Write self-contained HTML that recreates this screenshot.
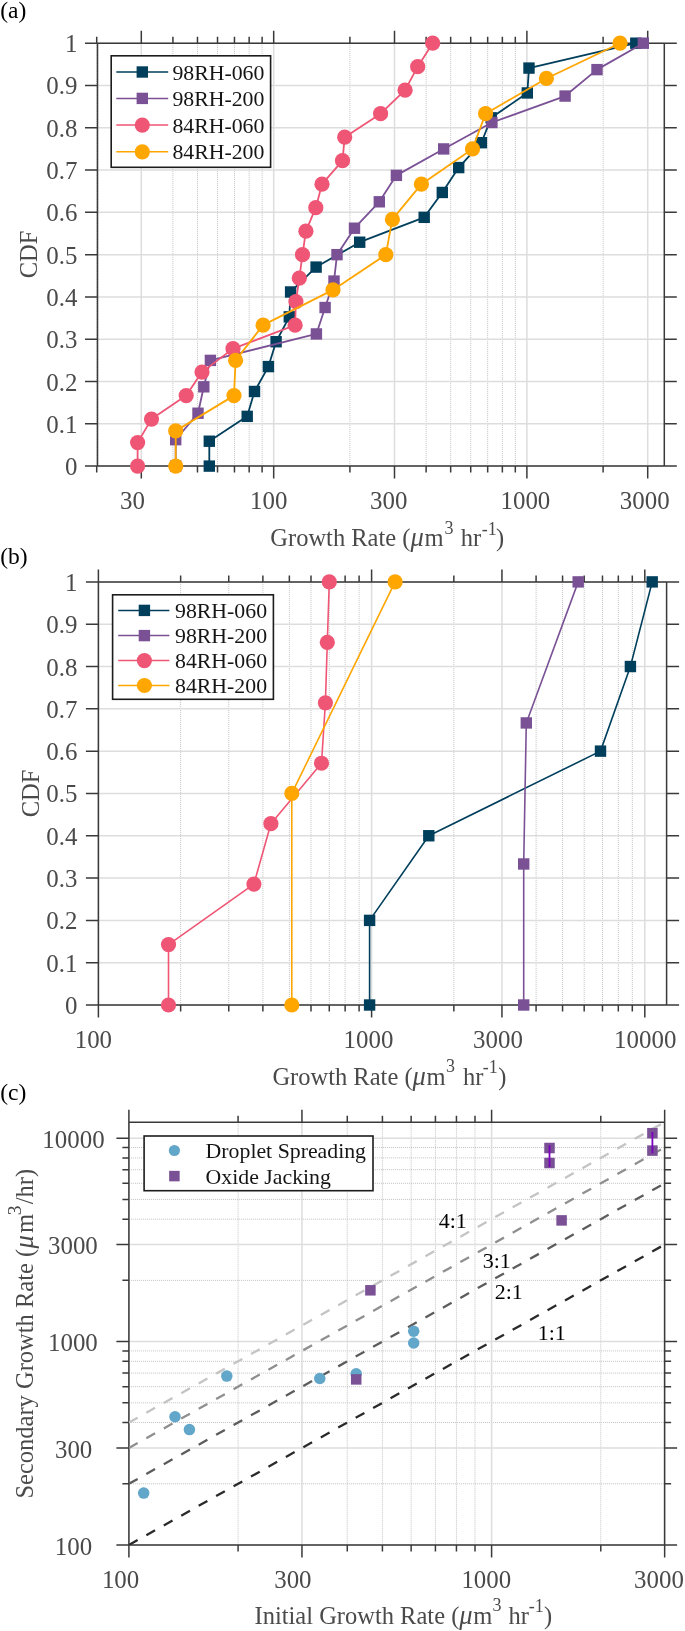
<!DOCTYPE html><html><head><meta charset="utf-8"><style>html,body{margin:0;padding:0;background:#fff;}svg{display:block;will-change:transform;}text{font-family:"Liberation Serif", serif;}</style></head><body>
<svg width="685" height="1631" viewBox="0 0 685 1631">
<rect width="685" height="1631" fill="#fff"/>
<line x1="96.71" y1="43.2" x2="96.71" y2="466.1" stroke="#c2c2c2" stroke-width="1" stroke-dasharray="1 1"/>
<line x1="172.93" y1="43.2" x2="172.93" y2="466.1" stroke="#c2c2c2" stroke-width="1" stroke-dasharray="1 1"/>
<line x1="197.47" y1="43.2" x2="197.47" y2="466.1" stroke="#c2c2c2" stroke-width="1" stroke-dasharray="1 1"/>
<line x1="217.52" y1="43.2" x2="217.52" y2="466.1" stroke="#c2c2c2" stroke-width="1" stroke-dasharray="1 1"/>
<line x1="234.47" y1="43.2" x2="234.47" y2="466.1" stroke="#c2c2c2" stroke-width="1" stroke-dasharray="1 1"/>
<line x1="249.16" y1="43.2" x2="249.16" y2="466.1" stroke="#c2c2c2" stroke-width="1" stroke-dasharray="1 1"/>
<line x1="262.11" y1="43.2" x2="262.11" y2="466.1" stroke="#c2c2c2" stroke-width="1" stroke-dasharray="1 1"/>
<line x1="349.91" y1="43.2" x2="349.91" y2="466.1" stroke="#c2c2c2" stroke-width="1" stroke-dasharray="1 1"/>
<line x1="426.13" y1="43.2" x2="426.13" y2="466.1" stroke="#c2c2c2" stroke-width="1" stroke-dasharray="1 1"/>
<line x1="450.67" y1="43.2" x2="450.67" y2="466.1" stroke="#c2c2c2" stroke-width="1" stroke-dasharray="1 1"/>
<line x1="470.72" y1="43.2" x2="470.72" y2="466.1" stroke="#c2c2c2" stroke-width="1" stroke-dasharray="1 1"/>
<line x1="487.67" y1="43.2" x2="487.67" y2="466.1" stroke="#c2c2c2" stroke-width="1" stroke-dasharray="1 1"/>
<line x1="502.36" y1="43.2" x2="502.36" y2="466.1" stroke="#c2c2c2" stroke-width="1" stroke-dasharray="1 1"/>
<line x1="515.31" y1="43.2" x2="515.31" y2="466.1" stroke="#c2c2c2" stroke-width="1" stroke-dasharray="1 1"/>
<line x1="603.11" y1="43.2" x2="603.11" y2="466.1" stroke="#c2c2c2" stroke-width="1" stroke-dasharray="1 1"/>
<line x1="141.30" y1="43.2" x2="141.30" y2="466.1" stroke="#dddddd" stroke-width="1.5"/>
<line x1="273.69" y1="43.2" x2="273.69" y2="466.1" stroke="#dddddd" stroke-width="1.5"/>
<line x1="394.50" y1="43.2" x2="394.50" y2="466.1" stroke="#dddddd" stroke-width="1.5"/>
<line x1="526.89" y1="43.2" x2="526.89" y2="466.1" stroke="#dddddd" stroke-width="1.5"/>
<line x1="647.70" y1="43.2" x2="647.70" y2="466.1" stroke="#dddddd" stroke-width="1.5"/>
<line x1="97.5" y1="466.10" x2="664.3" y2="466.10" stroke="#dddddd" stroke-width="1.5"/>
<line x1="97.5" y1="423.81" x2="664.3" y2="423.81" stroke="#dddddd" stroke-width="1.5"/>
<line x1="97.5" y1="381.52" x2="664.3" y2="381.52" stroke="#dddddd" stroke-width="1.5"/>
<line x1="97.5" y1="339.23" x2="664.3" y2="339.23" stroke="#dddddd" stroke-width="1.5"/>
<line x1="97.5" y1="296.94" x2="664.3" y2="296.94" stroke="#dddddd" stroke-width="1.5"/>
<line x1="97.5" y1="254.65" x2="664.3" y2="254.65" stroke="#dddddd" stroke-width="1.5"/>
<line x1="97.5" y1="212.36" x2="664.3" y2="212.36" stroke="#dddddd" stroke-width="1.5"/>
<line x1="97.5" y1="170.07" x2="664.3" y2="170.07" stroke="#dddddd" stroke-width="1.5"/>
<line x1="97.5" y1="127.78" x2="664.3" y2="127.78" stroke="#dddddd" stroke-width="1.5"/>
<line x1="97.5" y1="85.49" x2="664.3" y2="85.49" stroke="#dddddd" stroke-width="1.5"/>
<line x1="97.5" y1="43.20" x2="664.3" y2="43.20" stroke="#dddddd" stroke-width="1.5"/>
<path d="M97.5,43.2H664.3V466.1H97.5ZM141.30,43.2v-12.5M141.30,466.1v12.5M273.69,43.2v-12.5M273.69,466.1v12.5M394.50,43.2v-12.5M394.50,466.1v12.5M526.89,43.2v-12.5M526.89,466.1v12.5M647.70,43.2v-12.5M647.70,466.1v12.5M96.71,43.2v-6.5M96.71,466.1v6.5M172.93,43.2v-6.5M172.93,466.1v6.5M197.47,43.2v-6.5M197.47,466.1v6.5M217.52,43.2v-6.5M217.52,466.1v6.5M234.47,43.2v-6.5M234.47,466.1v6.5M249.16,43.2v-6.5M249.16,466.1v6.5M262.11,43.2v-6.5M262.11,466.1v6.5M349.91,43.2v-6.5M349.91,466.1v6.5M426.13,43.2v-6.5M426.13,466.1v6.5M450.67,43.2v-6.5M450.67,466.1v6.5M470.72,43.2v-6.5M470.72,466.1v6.5M487.67,43.2v-6.5M487.67,466.1v6.5M502.36,43.2v-6.5M502.36,466.1v6.5M515.31,43.2v-6.5M515.31,466.1v6.5M603.11,43.2v-6.5M603.11,466.1v6.5M97.5,466.10h-12.5M664.3,466.10h12.5M97.5,423.81h-12.5M664.3,423.81h12.5M97.5,381.52h-12.5M664.3,381.52h12.5M97.5,339.23h-12.5M664.3,339.23h12.5M97.5,296.94h-12.5M664.3,296.94h12.5M97.5,254.65h-12.5M664.3,254.65h12.5M97.5,212.36h-12.5M664.3,212.36h12.5M97.5,170.07h-12.5M664.3,170.07h12.5M97.5,127.78h-12.5M664.3,127.78h12.5M97.5,85.49h-12.5M664.3,85.49h12.5M97.5,43.20h-12.5M664.3,43.20h12.5" fill="none" stroke="#3a3a3a" stroke-width="1.5"/>
<path d="M209.30,466.10L209.30,441.22L247.20,416.35L254.50,391.47L268.40,366.59L276.10,341.72L289.30,316.84L290.60,291.96L316.10,267.09L359.70,242.21L424.20,217.34L442.30,192.46L458.70,167.58L481.40,142.71L491.20,117.83L527.30,92.95L529.00,68.08L635.80,43.20" fill="none" stroke="#003f5c" stroke-width="1.8" stroke-linejoin="round"/>
<rect x="203.60" y="460.40" width="11.4" height="11.4" fill="#003f5c"/>
<rect x="203.60" y="435.52" width="11.4" height="11.4" fill="#003f5c"/>
<rect x="241.50" y="410.65" width="11.4" height="11.4" fill="#003f5c"/>
<rect x="248.80" y="385.77" width="11.4" height="11.4" fill="#003f5c"/>
<rect x="262.70" y="360.89" width="11.4" height="11.4" fill="#003f5c"/>
<rect x="270.40" y="336.02" width="11.4" height="11.4" fill="#003f5c"/>
<rect x="283.60" y="311.14" width="11.4" height="11.4" fill="#003f5c"/>
<rect x="284.90" y="286.26" width="11.4" height="11.4" fill="#003f5c"/>
<rect x="310.40" y="261.39" width="11.4" height="11.4" fill="#003f5c"/>
<rect x="354.00" y="236.51" width="11.4" height="11.4" fill="#003f5c"/>
<rect x="418.50" y="211.64" width="11.4" height="11.4" fill="#003f5c"/>
<rect x="436.60" y="186.76" width="11.4" height="11.4" fill="#003f5c"/>
<rect x="453.00" y="161.88" width="11.4" height="11.4" fill="#003f5c"/>
<rect x="475.70" y="137.01" width="11.4" height="11.4" fill="#003f5c"/>
<rect x="485.50" y="112.13" width="11.4" height="11.4" fill="#003f5c"/>
<rect x="521.60" y="87.25" width="11.4" height="11.4" fill="#003f5c"/>
<rect x="523.30" y="62.38" width="11.4" height="11.4" fill="#003f5c"/>
<rect x="630.10" y="37.50" width="11.4" height="11.4" fill="#003f5c"/>
<path d="M175.70,466.10L175.70,439.67L198.00,413.24L203.80,386.81L210.40,360.38L316.40,333.94L325.10,307.51L334.00,281.08L337.00,254.65L354.50,228.22L379.30,201.79L396.40,175.36L443.70,148.93L491.90,122.49L565.10,96.06L597.00,69.63L643.30,43.20" fill="none" stroke="#7a5195" stroke-width="1.8" stroke-linejoin="round"/>
<rect x="170.00" y="460.40" width="11.4" height="11.4" fill="#7a5195"/>
<rect x="170.00" y="433.97" width="11.4" height="11.4" fill="#7a5195"/>
<rect x="192.30" y="407.54" width="11.4" height="11.4" fill="#7a5195"/>
<rect x="198.10" y="381.11" width="11.4" height="11.4" fill="#7a5195"/>
<rect x="204.70" y="354.68" width="11.4" height="11.4" fill="#7a5195"/>
<rect x="310.70" y="328.24" width="11.4" height="11.4" fill="#7a5195"/>
<rect x="319.40" y="301.81" width="11.4" height="11.4" fill="#7a5195"/>
<rect x="328.30" y="275.38" width="11.4" height="11.4" fill="#7a5195"/>
<rect x="331.30" y="248.95" width="11.4" height="11.4" fill="#7a5195"/>
<rect x="348.80" y="222.52" width="11.4" height="11.4" fill="#7a5195"/>
<rect x="373.60" y="196.09" width="11.4" height="11.4" fill="#7a5195"/>
<rect x="390.70" y="169.66" width="11.4" height="11.4" fill="#7a5195"/>
<rect x="438.00" y="143.23" width="11.4" height="11.4" fill="#7a5195"/>
<rect x="486.20" y="116.79" width="11.4" height="11.4" fill="#7a5195"/>
<rect x="559.40" y="90.36" width="11.4" height="11.4" fill="#7a5195"/>
<rect x="591.30" y="63.93" width="11.4" height="11.4" fill="#7a5195"/>
<rect x="637.60" y="37.50" width="11.4" height="11.4" fill="#7a5195"/>
<path d="M137.60,466.10L137.60,442.61L151.50,419.11L186.20,395.62L202.00,372.12L233.00,348.63L295.10,325.13L295.90,301.64L299.30,278.14L302.50,254.65L305.90,231.16L315.80,207.66L322.00,184.17L342.50,160.67L344.70,137.18L380.60,113.68L405.10,90.19L417.70,66.69L432.70,43.20" fill="none" stroke="#ef5675" stroke-width="1.8" stroke-linejoin="round"/>
<circle cx="137.60" cy="466.10" r="7.6" fill="#ef5675"/>
<circle cx="137.60" cy="442.61" r="7.6" fill="#ef5675"/>
<circle cx="151.50" cy="419.11" r="7.6" fill="#ef5675"/>
<circle cx="186.20" cy="395.62" r="7.6" fill="#ef5675"/>
<circle cx="202.00" cy="372.12" r="7.6" fill="#ef5675"/>
<circle cx="233.00" cy="348.63" r="7.6" fill="#ef5675"/>
<circle cx="295.10" cy="325.13" r="7.6" fill="#ef5675"/>
<circle cx="295.90" cy="301.64" r="7.6" fill="#ef5675"/>
<circle cx="299.30" cy="278.14" r="7.6" fill="#ef5675"/>
<circle cx="302.50" cy="254.65" r="7.6" fill="#ef5675"/>
<circle cx="305.90" cy="231.16" r="7.6" fill="#ef5675"/>
<circle cx="315.80" cy="207.66" r="7.6" fill="#ef5675"/>
<circle cx="322.00" cy="184.17" r="7.6" fill="#ef5675"/>
<circle cx="342.50" cy="160.67" r="7.6" fill="#ef5675"/>
<circle cx="344.70" cy="137.18" r="7.6" fill="#ef5675"/>
<circle cx="380.60" cy="113.68" r="7.6" fill="#ef5675"/>
<circle cx="405.10" cy="90.19" r="7.6" fill="#ef5675"/>
<circle cx="417.70" cy="66.69" r="7.6" fill="#ef5675"/>
<circle cx="432.70" cy="43.20" r="7.6" fill="#ef5675"/>
<path d="M175.70,466.10L175.70,430.86L234.00,395.62L235.60,360.38L263.10,325.13L333.00,289.89L385.80,254.65L392.40,219.41L421.40,184.17L472.50,148.93L485.60,113.68L546.40,78.44L620.00,43.20" fill="none" stroke="#ffa600" stroke-width="1.8" stroke-linejoin="round"/>
<circle cx="175.70" cy="466.10" r="7.6" fill="#ffa600"/>
<circle cx="175.70" cy="430.86" r="7.6" fill="#ffa600"/>
<circle cx="234.00" cy="395.62" r="7.6" fill="#ffa600"/>
<circle cx="235.60" cy="360.38" r="7.6" fill="#ffa600"/>
<circle cx="263.10" cy="325.13" r="7.6" fill="#ffa600"/>
<circle cx="333.00" cy="289.89" r="7.6" fill="#ffa600"/>
<circle cx="385.80" cy="254.65" r="7.6" fill="#ffa600"/>
<circle cx="392.40" cy="219.41" r="7.6" fill="#ffa600"/>
<circle cx="421.40" cy="184.17" r="7.6" fill="#ffa600"/>
<circle cx="472.50" cy="148.93" r="7.6" fill="#ffa600"/>
<circle cx="485.60" cy="113.68" r="7.6" fill="#ffa600"/>
<circle cx="546.40" cy="78.44" r="7.6" fill="#ffa600"/>
<circle cx="620.00" cy="43.20" r="7.6" fill="#ffa600"/>
<rect x="111.2" y="55.8" width="159.40" height="111.50" fill="#fff" stroke="#1c1c1c" stroke-width="1.6"/>
<line x1="116.3" y1="72" x2="168.2" y2="72" stroke="#003f5c" stroke-width="1.5"/>
<rect x="136.60" y="66.30" width="11.4" height="11.4" fill="#003f5c"/>
<text x="172.4" y="79.60" font-size="21.8" fill="#151515">98RH-060</text>
<line x1="116.3" y1="98.4" x2="168.2" y2="98.4" stroke="#7a5195" stroke-width="1.5"/>
<rect x="136.60" y="92.70" width="11.4" height="11.4" fill="#7a5195"/>
<text x="172.4" y="106.00" font-size="21.8" fill="#151515">98RH-200</text>
<line x1="116.3" y1="125.1" x2="168.2" y2="125.1" stroke="#ef5675" stroke-width="1.5"/>
<circle cx="142.3" cy="125.1" r="7.6" fill="#ef5675"/>
<text x="172.4" y="132.70" font-size="21.8" fill="#151515">84RH-060</text>
<line x1="116.3" y1="151.8" x2="168.2" y2="151.8" stroke="#ffa600" stroke-width="1.5"/>
<circle cx="142.3" cy="151.8" r="7.6" fill="#ffa600"/>
<text x="172.4" y="159.40" font-size="21.8" fill="#151515">84RH-200</text>
<text x="77.40" y="475.10" font-size="24.9" text-anchor="end" fill="#4a4a4a" >0</text>
<text x="77.40" y="432.81" font-size="24.9" text-anchor="end" fill="#4a4a4a" >0.1</text>
<text x="77.40" y="390.52" font-size="24.9" text-anchor="end" fill="#4a4a4a" >0.2</text>
<text x="77.40" y="348.23" font-size="24.9" text-anchor="end" fill="#4a4a4a" >0.3</text>
<text x="77.40" y="305.94" font-size="24.9" text-anchor="end" fill="#4a4a4a" >0.4</text>
<text x="77.40" y="263.65" font-size="24.9" text-anchor="end" fill="#4a4a4a" >0.5</text>
<text x="77.40" y="221.36" font-size="24.9" text-anchor="end" fill="#4a4a4a" >0.6</text>
<text x="77.40" y="179.07" font-size="24.9" text-anchor="end" fill="#4a4a4a" >0.7</text>
<text x="77.40" y="136.78" font-size="24.9" text-anchor="end" fill="#4a4a4a" >0.8</text>
<text x="77.40" y="94.49" font-size="24.9" text-anchor="end" fill="#4a4a4a" >0.9</text>
<text x="77.40" y="52.20" font-size="24.9" text-anchor="end" fill="#4a4a4a" >1</text>
<text x="120.10" y="508.50" font-size="24.9" text-anchor="start" fill="#4a4a4a" >30</text>
<text x="250.01" y="508.50" font-size="24.9" text-anchor="start" fill="#4a4a4a" >100</text>
<text x="370.10" y="508.50" font-size="24.9" text-anchor="start" fill="#4a4a4a" >300</text>
<text x="500.51" y="508.50" font-size="24.9" text-anchor="start" fill="#4a4a4a" >1000</text>
<text x="619.80" y="508.50" font-size="24.9" text-anchor="start" fill="#4a4a4a" >3000</text>
<text x="270.30" y="546.20" font-size="24.5" text-anchor="start" fill="#4a4a4a" >Growth Rate (<tspan font-style="italic" font-size="26.5">μ</tspan><tspan dx="0.6">m</tspan></text>
<text x="444.60" y="533.90" font-size="18" text-anchor="start" fill="#4a4a4a" >3</text>
<text x="460.70" y="546.20" font-size="24.5" text-anchor="start" fill="#4a4a4a" >hr</text>
<text x="481.76" y="534.90" font-size="18" text-anchor="start" fill="#4a4a4a" >-1</text>
<text x="496.07" y="546.20" font-size="24.5" text-anchor="start" fill="#4a4a4a" >)</text>
<text transform="translate(36.6,254.5) rotate(-90)" font-size="24.5" text-anchor="middle" fill="#4a4a4a">CDF</text>
<text x="0.20" y="17.60" font-size="23.5" text-anchor="start" fill="#000" >(a)</text>
<line x1="180.64" y1="581.9" x2="180.64" y2="1005.0" stroke="#c2c2c2" stroke-width="1" stroke-dasharray="1 1"/>
<line x1="228.75" y1="581.9" x2="228.75" y2="1005.0" stroke="#c2c2c2" stroke-width="1" stroke-dasharray="1 1"/>
<line x1="262.88" y1="581.9" x2="262.88" y2="1005.0" stroke="#c2c2c2" stroke-width="1" stroke-dasharray="1 1"/>
<line x1="289.36" y1="581.9" x2="289.36" y2="1005.0" stroke="#c2c2c2" stroke-width="1" stroke-dasharray="1 1"/>
<line x1="310.99" y1="581.9" x2="310.99" y2="1005.0" stroke="#c2c2c2" stroke-width="1" stroke-dasharray="1 1"/>
<line x1="329.28" y1="581.9" x2="329.28" y2="1005.0" stroke="#c2c2c2" stroke-width="1" stroke-dasharray="1 1"/>
<line x1="345.12" y1="581.9" x2="345.12" y2="1005.0" stroke="#c2c2c2" stroke-width="1" stroke-dasharray="1 1"/>
<line x1="359.10" y1="581.9" x2="359.10" y2="1005.0" stroke="#c2c2c2" stroke-width="1" stroke-dasharray="1 1"/>
<line x1="453.84" y1="581.9" x2="453.84" y2="1005.0" stroke="#c2c2c2" stroke-width="1" stroke-dasharray="1 1"/>
<line x1="536.08" y1="581.9" x2="536.08" y2="1005.0" stroke="#c2c2c2" stroke-width="1" stroke-dasharray="1 1"/>
<line x1="562.56" y1="581.9" x2="562.56" y2="1005.0" stroke="#c2c2c2" stroke-width="1" stroke-dasharray="1 1"/>
<line x1="584.19" y1="581.9" x2="584.19" y2="1005.0" stroke="#c2c2c2" stroke-width="1" stroke-dasharray="1 1"/>
<line x1="602.48" y1="581.9" x2="602.48" y2="1005.0" stroke="#c2c2c2" stroke-width="1" stroke-dasharray="1 1"/>
<line x1="618.32" y1="581.9" x2="618.32" y2="1005.0" stroke="#c2c2c2" stroke-width="1" stroke-dasharray="1 1"/>
<line x1="632.30" y1="581.9" x2="632.30" y2="1005.0" stroke="#c2c2c2" stroke-width="1" stroke-dasharray="1 1"/>
<line x1="98.40" y1="581.9" x2="98.40" y2="1005.0" stroke="#dddddd" stroke-width="1.5"/>
<line x1="371.60" y1="581.9" x2="371.60" y2="1005.0" stroke="#dddddd" stroke-width="1.5"/>
<line x1="501.95" y1="581.9" x2="501.95" y2="1005.0" stroke="#dddddd" stroke-width="1.5"/>
<line x1="644.80" y1="581.9" x2="644.80" y2="1005.0" stroke="#dddddd" stroke-width="1.5"/>
<line x1="98.4" y1="1005.00" x2="666.6" y2="1005.00" stroke="#dddddd" stroke-width="1.5"/>
<line x1="98.4" y1="962.69" x2="666.6" y2="962.69" stroke="#dddddd" stroke-width="1.5"/>
<line x1="98.4" y1="920.38" x2="666.6" y2="920.38" stroke="#dddddd" stroke-width="1.5"/>
<line x1="98.4" y1="878.07" x2="666.6" y2="878.07" stroke="#dddddd" stroke-width="1.5"/>
<line x1="98.4" y1="835.76" x2="666.6" y2="835.76" stroke="#dddddd" stroke-width="1.5"/>
<line x1="98.4" y1="793.45" x2="666.6" y2="793.45" stroke="#dddddd" stroke-width="1.5"/>
<line x1="98.4" y1="751.14" x2="666.6" y2="751.14" stroke="#dddddd" stroke-width="1.5"/>
<line x1="98.4" y1="708.83" x2="666.6" y2="708.83" stroke="#dddddd" stroke-width="1.5"/>
<line x1="98.4" y1="666.52" x2="666.6" y2="666.52" stroke="#dddddd" stroke-width="1.5"/>
<line x1="98.4" y1="624.21" x2="666.6" y2="624.21" stroke="#dddddd" stroke-width="1.5"/>
<line x1="98.4" y1="581.90" x2="666.6" y2="581.90" stroke="#dddddd" stroke-width="1.5"/>
<path d="M98.4,581.9H666.6V1005.0H98.4ZM98.40,581.9v-12.5M98.40,1005.0v12.5M371.60,581.9v-12.5M371.60,1005.0v12.5M501.95,581.9v-12.5M501.95,1005.0v12.5M644.80,581.9v-12.5M644.80,1005.0v12.5M180.64,581.9v-6.5M180.64,1005.0v6.5M228.75,581.9v-6.5M228.75,1005.0v6.5M262.88,581.9v-6.5M262.88,1005.0v6.5M289.36,581.9v-6.5M289.36,1005.0v6.5M310.99,581.9v-6.5M310.99,1005.0v6.5M329.28,581.9v-6.5M329.28,1005.0v6.5M345.12,581.9v-6.5M345.12,1005.0v6.5M359.10,581.9v-6.5M359.10,1005.0v6.5M453.84,581.9v-6.5M453.84,1005.0v6.5M536.08,581.9v-6.5M536.08,1005.0v6.5M562.56,581.9v-6.5M562.56,1005.0v6.5M584.19,581.9v-6.5M584.19,1005.0v6.5M602.48,581.9v-6.5M602.48,1005.0v6.5M618.32,581.9v-6.5M618.32,1005.0v6.5M632.30,581.9v-6.5M632.30,1005.0v6.5M98.4,1005.00h-12.5M666.6,1005.00h12.5M98.4,962.69h-12.5M666.6,962.69h12.5M98.4,920.38h-12.5M666.6,920.38h12.5M98.4,878.07h-12.5M666.6,878.07h12.5M98.4,835.76h-12.5M666.6,835.76h12.5M98.4,793.45h-12.5M666.6,793.45h12.5M98.4,751.14h-12.5M666.6,751.14h12.5M98.4,708.83h-12.5M666.6,708.83h12.5M98.4,666.52h-12.5M666.6,666.52h12.5M98.4,624.21h-12.5M666.6,624.21h12.5M98.4,581.90h-12.5M666.6,581.90h12.5" fill="none" stroke="#3a3a3a" stroke-width="1.5"/>
<path d="M369.60,1005.00L369.60,920.38L428.80,835.76L600.50,751.14L630.40,666.52L652.20,581.90" fill="none" stroke="#003f5c" stroke-width="1.6" stroke-linejoin="round"/>
<rect x="363.90" y="999.30" width="11.4" height="11.4" fill="#003f5c"/>
<rect x="363.90" y="914.68" width="11.4" height="11.4" fill="#003f5c"/>
<rect x="423.10" y="830.06" width="11.4" height="11.4" fill="#003f5c"/>
<rect x="594.80" y="745.44" width="11.4" height="11.4" fill="#003f5c"/>
<rect x="624.70" y="660.82" width="11.4" height="11.4" fill="#003f5c"/>
<rect x="646.50" y="576.20" width="11.4" height="11.4" fill="#003f5c"/>
<path d="M523.70,1005.00L523.70,863.97L526.30,722.93L578.20,581.90" fill="none" stroke="#7a5195" stroke-width="1.6" stroke-linejoin="round"/>
<rect x="518.00" y="999.30" width="11.4" height="11.4" fill="#7a5195"/>
<rect x="518.00" y="858.27" width="11.4" height="11.4" fill="#7a5195"/>
<rect x="520.60" y="717.23" width="11.4" height="11.4" fill="#7a5195"/>
<rect x="572.50" y="576.20" width="11.4" height="11.4" fill="#7a5195"/>
<path d="M168.50,1005.00L168.50,944.56L253.90,884.11L270.90,823.67L321.50,763.23L325.40,702.79L327.30,642.34L329.30,581.90" fill="none" stroke="#ef5675" stroke-width="1.6" stroke-linejoin="round"/>
<circle cx="168.50" cy="1005.00" r="7.6" fill="#ef5675"/>
<circle cx="168.50" cy="944.56" r="7.6" fill="#ef5675"/>
<circle cx="253.90" cy="884.11" r="7.6" fill="#ef5675"/>
<circle cx="270.90" cy="823.67" r="7.6" fill="#ef5675"/>
<circle cx="321.50" cy="763.23" r="7.6" fill="#ef5675"/>
<circle cx="325.40" cy="702.79" r="7.6" fill="#ef5675"/>
<circle cx="327.30" cy="642.34" r="7.6" fill="#ef5675"/>
<circle cx="329.30" cy="581.90" r="7.6" fill="#ef5675"/>
<path d="M291.80,1005.00L291.80,793.45L395.10,581.90" fill="none" stroke="#ffa600" stroke-width="1.6" stroke-linejoin="round"/>
<circle cx="291.80" cy="1005.00" r="7.6" fill="#ffa600"/>
<circle cx="291.80" cy="793.45" r="7.6" fill="#ffa600"/>
<circle cx="395.10" cy="581.90" r="7.6" fill="#ffa600"/>
<rect x="112.6" y="594.8" width="160.80" height="104.50" fill="#fff" stroke="#1c1c1c" stroke-width="1.6"/>
<line x1="118.2" y1="610.4" x2="169.4" y2="610.4" stroke="#003f5c" stroke-width="1.5"/>
<rect x="138.70" y="604.70" width="11.4" height="11.4" fill="#003f5c"/>
<text x="175.0" y="618.00" font-size="21.8" fill="#151515">98RH-060</text>
<line x1="118.2" y1="635.6" x2="169.4" y2="635.6" stroke="#7a5195" stroke-width="1.5"/>
<rect x="138.70" y="629.90" width="11.4" height="11.4" fill="#7a5195"/>
<text x="175.0" y="643.20" font-size="21.8" fill="#151515">98RH-200</text>
<line x1="118.2" y1="660.6" x2="169.4" y2="660.6" stroke="#ef5675" stroke-width="1.5"/>
<circle cx="144.4" cy="660.6" r="7.6" fill="#ef5675"/>
<text x="175.0" y="668.20" font-size="21.8" fill="#151515">84RH-060</text>
<line x1="118.2" y1="685.5" x2="169.4" y2="685.5" stroke="#ffa600" stroke-width="1.5"/>
<circle cx="144.4" cy="685.5" r="7.6" fill="#ffa600"/>
<text x="175.0" y="693.10" font-size="21.8" fill="#151515">84RH-200</text>
<text x="77.40" y="1014.00" font-size="24.9" text-anchor="end" fill="#4a4a4a" >0</text>
<text x="77.40" y="971.69" font-size="24.9" text-anchor="end" fill="#4a4a4a" >0.1</text>
<text x="77.40" y="929.38" font-size="24.9" text-anchor="end" fill="#4a4a4a" >0.2</text>
<text x="77.40" y="887.07" font-size="24.9" text-anchor="end" fill="#4a4a4a" >0.3</text>
<text x="77.40" y="844.76" font-size="24.9" text-anchor="end" fill="#4a4a4a" >0.4</text>
<text x="77.40" y="802.45" font-size="24.9" text-anchor="end" fill="#4a4a4a" >0.5</text>
<text x="77.40" y="760.14" font-size="24.9" text-anchor="end" fill="#4a4a4a" >0.6</text>
<text x="77.40" y="717.83" font-size="24.9" text-anchor="end" fill="#4a4a4a" >0.7</text>
<text x="77.40" y="675.52" font-size="24.9" text-anchor="end" fill="#4a4a4a" >0.8</text>
<text x="77.40" y="633.21" font-size="24.9" text-anchor="end" fill="#4a4a4a" >0.9</text>
<text x="77.40" y="590.90" font-size="24.9" text-anchor="end" fill="#4a4a4a" >1</text>
<text x="74.71" y="1047.70" font-size="24.9" text-anchor="start" fill="#4a4a4a" >100</text>
<text x="343.61" y="1047.70" font-size="24.9" text-anchor="start" fill="#4a4a4a" >1000</text>
<text x="473.10" y="1047.70" font-size="24.9" text-anchor="start" fill="#4a4a4a" >3000</text>
<text x="614.11" y="1047.70" font-size="24.9" text-anchor="start" fill="#4a4a4a" >10000</text>
<text x="272.40" y="1084.60" font-size="24.5" text-anchor="start" fill="#4a4a4a" >Growth Rate (<tspan font-style="italic" font-size="26.5">μ</tspan><tspan dx="0.6">m</tspan></text>
<text x="446.10" y="1072.30" font-size="18" text-anchor="start" fill="#4a4a4a" >3</text>
<text x="463.00" y="1084.60" font-size="24.5" text-anchor="start" fill="#4a4a4a" >hr</text>
<text x="482.86" y="1073.30" font-size="18" text-anchor="start" fill="#4a4a4a" >-1</text>
<text x="498.17" y="1084.60" font-size="24.5" text-anchor="start" fill="#4a4a4a" >)</text>
<text transform="translate(38.8,793.5) rotate(-90)" font-size="24.5" text-anchor="middle" fill="#4a4a4a">CDF</text>
<text x="0.20" y="564.00" font-size="23.5" text-anchor="start" fill="#000" >(b)</text>
<line x1="238.08" y1="1122.3" x2="238.08" y2="1545.0" stroke="#c2c2c2" stroke-width="1" stroke-dasharray="1 1"/>
<line x1="347.27" y1="1122.3" x2="347.27" y2="1545.0" stroke="#c2c2c2" stroke-width="1" stroke-dasharray="1 1"/>
<line x1="382.42" y1="1122.3" x2="382.42" y2="1545.0" stroke="#c2c2c2" stroke-width="1" stroke-dasharray="1 1"/>
<line x1="411.14" y1="1122.3" x2="411.14" y2="1545.0" stroke="#c2c2c2" stroke-width="1" stroke-dasharray="1 1"/>
<line x1="435.42" y1="1122.3" x2="435.42" y2="1545.0" stroke="#c2c2c2" stroke-width="1" stroke-dasharray="1 1"/>
<line x1="456.45" y1="1122.3" x2="456.45" y2="1545.0" stroke="#c2c2c2" stroke-width="1" stroke-dasharray="1 1"/>
<line x1="475.00" y1="1122.3" x2="475.00" y2="1545.0" stroke="#c2c2c2" stroke-width="1" stroke-dasharray="1 1"/>
<line x1="600.78" y1="1122.3" x2="600.78" y2="1545.0" stroke="#c2c2c2" stroke-width="1" stroke-dasharray="1 1"/>
<line x1="128.9" y1="1483.77" x2="664.6" y2="1483.77" stroke="#c2c2c2" stroke-width="1" stroke-dasharray="1 1"/>
<line x1="128.9" y1="1422.54" x2="664.6" y2="1422.54" stroke="#c2c2c2" stroke-width="1" stroke-dasharray="1 1"/>
<line x1="128.9" y1="1402.83" x2="664.6" y2="1402.83" stroke="#c2c2c2" stroke-width="1" stroke-dasharray="1 1"/>
<line x1="128.9" y1="1386.72" x2="664.6" y2="1386.72" stroke="#c2c2c2" stroke-width="1" stroke-dasharray="1 1"/>
<line x1="128.9" y1="1373.11" x2="664.6" y2="1373.11" stroke="#c2c2c2" stroke-width="1" stroke-dasharray="1 1"/>
<line x1="128.9" y1="1361.31" x2="664.6" y2="1361.31" stroke="#c2c2c2" stroke-width="1" stroke-dasharray="1 1"/>
<line x1="128.9" y1="1350.91" x2="664.6" y2="1350.91" stroke="#c2c2c2" stroke-width="1" stroke-dasharray="1 1"/>
<line x1="128.9" y1="1280.37" x2="664.6" y2="1280.37" stroke="#c2c2c2" stroke-width="1" stroke-dasharray="1 1"/>
<line x1="128.9" y1="1219.14" x2="664.6" y2="1219.14" stroke="#c2c2c2" stroke-width="1" stroke-dasharray="1 1"/>
<line x1="128.9" y1="1199.43" x2="664.6" y2="1199.43" stroke="#c2c2c2" stroke-width="1" stroke-dasharray="1 1"/>
<line x1="128.9" y1="1183.32" x2="664.6" y2="1183.32" stroke="#c2c2c2" stroke-width="1" stroke-dasharray="1 1"/>
<line x1="128.9" y1="1169.71" x2="664.6" y2="1169.71" stroke="#c2c2c2" stroke-width="1" stroke-dasharray="1 1"/>
<line x1="128.9" y1="1157.91" x2="664.6" y2="1157.91" stroke="#c2c2c2" stroke-width="1" stroke-dasharray="1 1"/>
<line x1="128.9" y1="1147.51" x2="664.6" y2="1147.51" stroke="#c2c2c2" stroke-width="1" stroke-dasharray="1 1"/>
<line x1="128.90" y1="1122.3" x2="128.90" y2="1545.0" stroke="#dddddd" stroke-width="1.5"/>
<line x1="301.95" y1="1122.3" x2="301.95" y2="1545.0" stroke="#dddddd" stroke-width="1.5"/>
<line x1="491.60" y1="1122.3" x2="491.60" y2="1545.0" stroke="#dddddd" stroke-width="1.5"/>
<line x1="664.65" y1="1122.3" x2="664.65" y2="1545.0" stroke="#dddddd" stroke-width="1.5"/>
<line x1="128.9" y1="1545.00" x2="664.6" y2="1545.00" stroke="#dddddd" stroke-width="1.5"/>
<line x1="128.9" y1="1447.95" x2="664.6" y2="1447.95" stroke="#dddddd" stroke-width="1.5"/>
<line x1="128.9" y1="1341.60" x2="664.6" y2="1341.60" stroke="#dddddd" stroke-width="1.5"/>
<line x1="128.9" y1="1244.55" x2="664.6" y2="1244.55" stroke="#dddddd" stroke-width="1.5"/>
<line x1="128.9" y1="1138.20" x2="664.6" y2="1138.20" stroke="#dddddd" stroke-width="1.5"/>
<path d="M128.9,1122.3H664.6V1545.0H128.9ZM128.90,1122.3v-12.5M128.90,1545.0v12.5M301.95,1122.3v-12.5M301.95,1545.0v12.5M491.60,1122.3v-12.5M491.60,1545.0v12.5M664.65,1122.3v-12.5M664.65,1545.0v12.5M238.08,1122.3v-6.5M238.08,1545.0v6.5M347.27,1122.3v-6.5M347.27,1545.0v6.5M382.42,1122.3v-6.5M382.42,1545.0v6.5M411.14,1122.3v-6.5M411.14,1545.0v6.5M435.42,1122.3v-6.5M435.42,1545.0v6.5M456.45,1122.3v-6.5M456.45,1545.0v6.5M475.00,1122.3v-6.5M475.00,1545.0v6.5M600.78,1122.3v-6.5M600.78,1545.0v6.5M128.9,1545.00h-12.5M664.6,1545.00h12.5M128.9,1447.95h-12.5M664.6,1447.95h12.5M128.9,1341.60h-12.5M664.6,1341.60h12.5M128.9,1244.55h-12.5M664.6,1244.55h12.5M128.9,1138.20h-12.5M664.6,1138.20h12.5M128.9,1483.77h-6.5M664.6,1483.77h6.5M128.9,1422.54h-6.5M664.6,1422.54h6.5M128.9,1402.83h-6.5M664.6,1402.83h6.5M128.9,1386.72h-6.5M664.6,1386.72h6.5M128.9,1373.11h-6.5M664.6,1373.11h6.5M128.9,1361.31h-6.5M664.6,1361.31h6.5M128.9,1350.91h-6.5M664.6,1350.91h6.5M128.9,1280.37h-6.5M664.6,1280.37h6.5M128.9,1219.14h-6.5M664.6,1219.14h6.5M128.9,1199.43h-6.5M664.6,1199.43h6.5M128.9,1183.32h-6.5M664.6,1183.32h6.5M128.9,1169.71h-6.5M664.6,1169.71h6.5M128.9,1157.91h-6.5M664.6,1157.91h6.5M128.9,1147.51h-6.5M664.6,1147.51h6.5" fill="none" stroke="#3a3a3a" stroke-width="1.5"/>
<clipPath id="cc"><rect x="128.9" y="1122.3" width="535.70" height="422.70"/></clipPath>
<g clip-path="url(#cc)">
<line x1="128.90" y1="1422.54" x2="664.65" y2="1122.09" stroke="#c4c4c4" stroke-width="2.3" stroke-dasharray="10 10"/>
<line x1="128.90" y1="1447.95" x2="664.65" y2="1147.51" stroke="#8f8f8f" stroke-width="2.3" stroke-dasharray="10 10"/>
<line x1="128.90" y1="1483.77" x2="664.65" y2="1183.32" stroke="#5c5c5c" stroke-width="2.3" stroke-dasharray="10 10"/>
<line x1="128.90" y1="1545.00" x2="664.65" y2="1244.55" stroke="#2a2a2a" stroke-width="2.3" stroke-dasharray="10 10"/>
</g>
<circle cx="143.7" cy="1493.1" r="5.75" fill="#62a6c9"/>
<circle cx="175" cy="1416.8" r="5.75" fill="#62a6c9"/>
<circle cx="189.4" cy="1429.6" r="5.75" fill="#62a6c9"/>
<circle cx="226.8" cy="1376.1" r="5.75" fill="#62a6c9"/>
<circle cx="319.8" cy="1378.5" r="5.75" fill="#62a6c9"/>
<circle cx="356.2" cy="1373.8" r="5.75" fill="#62a6c9"/>
<circle cx="413.7" cy="1343" r="5.75" fill="#62a6c9"/>
<circle cx="413.7" cy="1331.3" r="5.75" fill="#62a6c9"/>
<rect x="350.95" y="1374.15" width="10.5" height="10.5" fill="#7a5195"/>
<rect x="365.15" y="1285.05" width="10.5" height="10.5" fill="#7a5195"/>
<rect x="556.35" y="1215.15" width="10.5" height="10.5" fill="#7a5195"/>
<rect x="544.25" y="1142.75" width="10.5" height="10.5" fill="#7a5195"/>
<rect x="544.25" y="1157.75" width="10.5" height="10.5" fill="#7a5195"/>
<rect x="647.15" y="1127.95" width="10.5" height="10.5" fill="#7a5195"/>
<rect x="647.15" y="1145.35" width="10.5" height="10.5" fill="#7a5195"/>
<line x1="549.5" y1="1145.2" x2="549.5" y2="1167.1" stroke="#7d00c0" stroke-width="1.8"/>
<line x1="652.4" y1="1132" x2="652.4" y2="1153.3" stroke="#7d00c0" stroke-width="1.8"/>
<rect x="144.1" y="1136" width="228.90" height="54.70" fill="#fff" stroke="#1c1c1c" stroke-width="1.6"/>
<circle cx="174.4" cy="1150.5" r="5.6" fill="#62a6c9"/>
<text x="205.6" y="1158.10" font-size="21.8" fill="#151515">Droplet Spreading</text>
<rect x="169.15" y="1170.85" width="10.5" height="10.5" fill="#7a5195"/>
<text x="205.6" y="1183.70" font-size="21.8" fill="#151515">Oxide Jacking</text>
<text x="452.80" y="1228.20" font-size="22" text-anchor="middle" fill="#000" >4:1</text>
<text x="496.80" y="1268.10" font-size="22" text-anchor="middle" fill="#000" >3:1</text>
<text x="508.80" y="1299.10" font-size="22" text-anchor="middle" fill="#000" >2:1</text>
<text x="551.80" y="1339.60" font-size="22" text-anchor="middle" fill="#000" >1:1</text>
<text x="92.20" y="1554.60" font-size="24.9" text-anchor="end" fill="#4a4a4a" >100</text>
<text x="92.30" y="1457.55" font-size="24.9" text-anchor="end" fill="#4a4a4a" >300</text>
<text x="97.80" y="1351.20" font-size="24.9" text-anchor="end" fill="#4a4a4a" >1000</text>
<text x="97.80" y="1254.15" font-size="24.9" text-anchor="end" fill="#4a4a4a" >3000</text>
<text x="104.60" y="1147.80" font-size="24.9" text-anchor="end" fill="#4a4a4a" >10000</text>
<text x="101.91" y="1588.00" font-size="24.9" text-anchor="start" fill="#4a4a4a" >100</text>
<text x="274.20" y="1588.00" font-size="24.9" text-anchor="start" fill="#4a4a4a" >300</text>
<text x="461.41" y="1588.00" font-size="24.9" text-anchor="start" fill="#4a4a4a" >1000</text>
<text x="634.10" y="1588.00" font-size="24.9" text-anchor="start" fill="#4a4a4a" >3000</text>
<text x="254.50" y="1623.60" font-size="24.5" text-anchor="start" fill="#4a4a4a" >Initial Growth Rate (<tspan font-style="italic" font-size="26.5">μ</tspan><tspan dx="0.6">m</tspan></text>
<text x="492.40" y="1611.30" font-size="18" text-anchor="start" fill="#4a4a4a" >3</text>
<text x="508.40" y="1623.60" font-size="24.5" text-anchor="start" fill="#4a4a4a" >hr</text>
<text x="528.86" y="1612.30" font-size="18" text-anchor="start" fill="#4a4a4a" >-1</text>
<text x="543.88" y="1623.60" font-size="24.5" text-anchor="start" fill="#4a4a4a" >)</text>
<g transform="translate(33.2,1334.4) rotate(-90)" fill="#4a4a4a">
<text x="-164.2" y="0" font-size="24.5">Secondary Growth Rate (</text>
<text x="85.8" y="0" font-size="26.5" font-style="italic">μ</text>
<text x="101.3" y="0" font-size="24.5">m</text>
<text x="119.1" y="-12.3" font-size="19.5">3</text>
<text x="130.2" y="0" font-size="24.5">/hr)</text>
</g>
<text x="0.20" y="1100.20" font-size="23.5" text-anchor="start" fill="#000" >(c)</text>
</svg></body></html>
